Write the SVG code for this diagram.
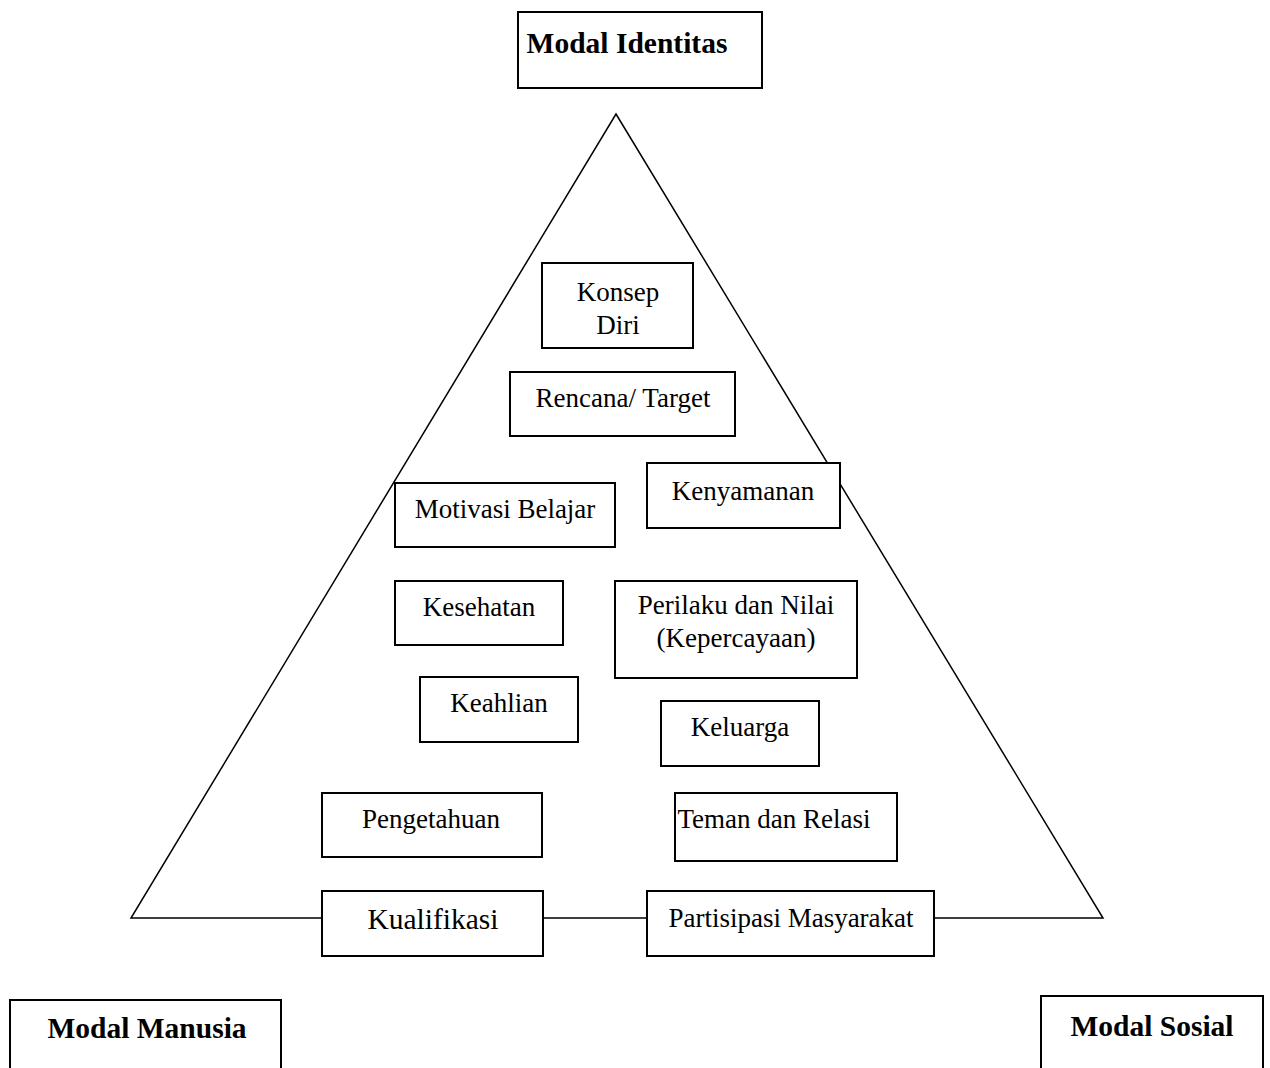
<svg xmlns="http://www.w3.org/2000/svg" width="1270" height="1068" viewBox="0 0 1270 1068">
<style>
.box{fill:#fff;stroke:#000;stroke-width:2}
.t{font-family:"Liberation Serif","Times New Roman",serif;font-size:27px;fill:#000;text-anchor:middle}
.b{font-family:"Liberation Serif","Times New Roman",serif;font-size:29.5px;font-weight:bold;fill:#000;text-anchor:middle}
.ln{fill:none;stroke:#000;stroke-width:1.5}
</style>
<rect width="1270" height="1068" fill="#fff"/>
<g id="connectors">
<polygon class="ln" points="616,114 1103,918 131,918"/>
</g>
<g id="modal-identitas"><rect class="box" x="518" y="12" width="244" height="76"/><text class="b" x="627" y="53">Modal Identitas</text></g>
<g id="konsep-diri"><rect class="box" x="542" y="263" width="151" height="85"/><text class="t" x="618" y="301">Konsep</text><text class="t" x="618" y="334">Diri</text></g>
<g id="rencana"><rect class="box" x="510" y="372" width="225" height="64"/><text class="t" x="623" y="407">Rencana/ Target</text></g>
<g id="kenyamanan"><rect class="box" x="647" y="463" width="193" height="65"/><text class="t" x="743" y="500">Kenyamanan</text></g>
<g id="motivasi"><rect class="box" x="395" y="483" width="220" height="64"/><text class="t" x="505" y="518">Motivasi Belajar</text></g>
<g id="kesehatan"><rect class="box" x="395" y="581" width="168" height="64"/><text class="t" x="479" y="616">Kesehatan</text></g>
<g id="perilaku"><rect class="box" x="615" y="581" width="242" height="97"/><text class="t" x="736" y="614">Perilaku dan Nilai</text><text class="t" x="736" y="647">(Kepercayaan)</text></g>
<g id="keahlian"><rect class="box" x="420" y="677" width="158" height="65"/><text class="t" x="499" y="712">Keahlian</text></g>
<g id="keluarga"><rect class="box" x="661" y="701" width="158" height="65"/><text class="t" x="740" y="736">Keluarga</text></g>
<g id="pengetahuan"><rect class="box" x="322" y="793" width="220" height="64"/><text class="t" x="431" y="828">Pengetahuan</text></g>
<g id="teman"><rect class="box" x="675" y="793" width="222" height="68"/><text class="t" x="774" y="828">Teman dan Relasi</text></g>
<g id="kualifikasi"><rect class="box" x="322" y="891" width="221" height="65"/><text class="t" x="433" y="929" style="font-size:29.5px">Kualifikasi</text></g>
<g id="partisipasi"><rect class="box" x="647" y="891" width="287" height="65"/><text class="t" x="791" y="927">Partisipasi Masyarakat</text></g>
<g id="modal-manusia"><rect class="box" x="10" y="1000" width="271" height="80"/><text class="b" x="147" y="1038">Modal Manusia</text></g>
<g id="modal-sosial"><rect class="box" x="1041" y="996" width="222" height="84"/><text class="b" x="1152" y="1036">Modal Sosial</text></g>
</svg>
